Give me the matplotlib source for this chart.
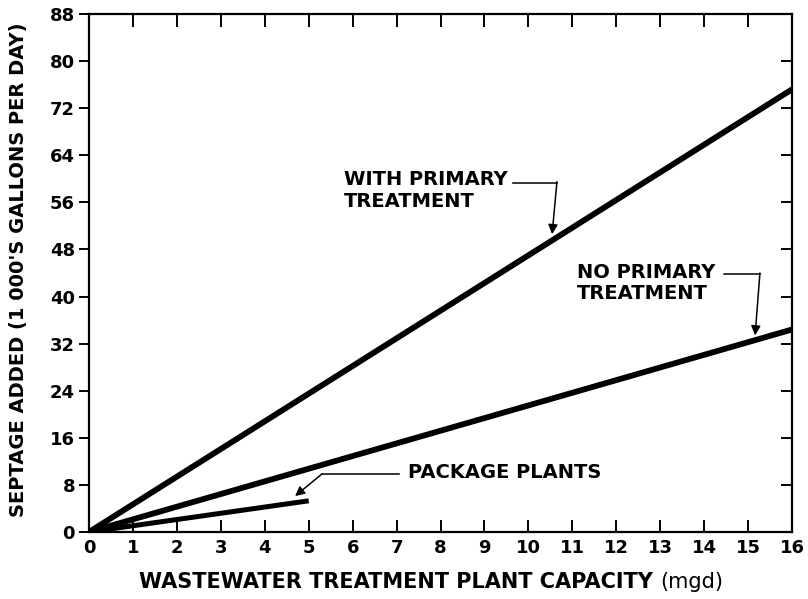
import matplotlib
matplotlib.use("Agg")
import matplotlib.pyplot as plt
import matplotlib.lines as mlines

plt.rcParams['font.family'] = ['DejaVu Sans']

# Plant capacity (mgd) and septage added (1 000 gal/day)
capacity_primary = [0, 16]
septage_primary = [0, 75.2]
capacity_no_primary = [0, 16]
septage_no_primary = [0, 34.4]
capacity_package = [0, 5]
septage_package = [0, 5.3]

x_ticks = list(range(0, 17))
y_ticks = list(range(0, 89, 8))

fig = plt.figure(figsize=(8.08, 5.99), dpi=100)
ax = fig.add_axes([89 / 808, 1 - 532 / 599, 703 / 808, 518 / 599])

lw = 4.2
ax.plot(capacity_primary, septage_primary, color='black', lw=lw, solid_capstyle='butt')
ax.plot(capacity_no_primary, septage_no_primary, color='black', lw=lw, solid_capstyle='butt')
ax.plot(capacity_package, septage_package, color='black', lw=3.6, solid_capstyle='butt')

ax.set_xlim(0, 16)
ax.set_ylim(0, 88)
ax.set_xticks(x_ticks)
ax.set_yticks(y_ticks)
ax.set_xticklabels([str(v) for v in x_ticks], fontsize=13, fontweight='bold')
ax.set_yticklabels([str(v) for v in y_ticks], fontsize=13, fontweight='bold')

for s in ax.spines.values():
    s.set_linewidth(1.6)

ax.tick_params(axis='x', direction='in', length=9, width=1.4, top=True, pad=5)
ax.tick_params(axis='y', direction='out', length=7, width=1.4, pad=3)
ax.tick_params(axis='y', which='both', right=True)
# right-hand ticks point inward
for t in ax.yaxis.get_major_ticks():
    t.tick2line.set_marker(mlines.TICKLEFT)
    t.tick2line.set_markersize(8)

# Axis titles with a light-weight unit part
fig.text(660 / 808, 1 - 582 / 599, 'WASTEWATER TREATMENT PLANT CAPACITY ', ha='right', va='center',
         fontsize=15, fontweight='bold')
fig.text(660 / 808, 1 - 582 / 599, '(mgd)', ha='left', va='center', fontsize=15)

fig.text(19 / 808, 1 - 270 / 599, "SEPTAGE ADDED (1 000'S GALLONS PER DAY)", rotation=90,
         ha='center', va='center', fontsize=14, fontweight='bold')

# Callouts
txt = dict(fontsize=14, fontweight='bold', ha='left', va='center', linespacing=1.15)
ax.text(5.8, 58.0, 'WITH PRIMARY\nTREATMENT', **txt)
ax.plot([9.65, 10.65], [59.3, 59.3], color='black', lw=1.1)
ax.annotate('', xy=(10.54, 50.6), xytext=(10.65, 59.5),
            arrowprops=dict(arrowstyle='-|>', color='black', lw=1.1, mutation_scale=14,
                            shrinkA=0, shrinkB=0))

ax.text(11.1, 42.3, 'NO PRIMARY\nTREATMENT', **txt)
ax.plot([14.45, 15.27], [43.8, 43.8], color='black', lw=1.1)
ax.annotate('', xy=(15.16, 33.4), xytext=(15.27, 44.0),
            arrowprops=dict(arrowstyle='-|>', color='black', lw=1.1, mutation_scale=14,
                            shrinkA=0, shrinkB=0))

ax.text(7.26, 10.1, 'PACKAGE PLANTS', **txt)
ax.plot([7.05, 5.30], [9.85, 9.85], color='black', lw=1.1)
ax.annotate('', xy=(4.69, 6.1), xytext=(5.30, 9.85),
            arrowprops=dict(arrowstyle='-|>', color='black', lw=1.1, mutation_scale=14,
                            shrinkA=0, shrinkB=0))

fig.savefig('out.png', dpi=100)
